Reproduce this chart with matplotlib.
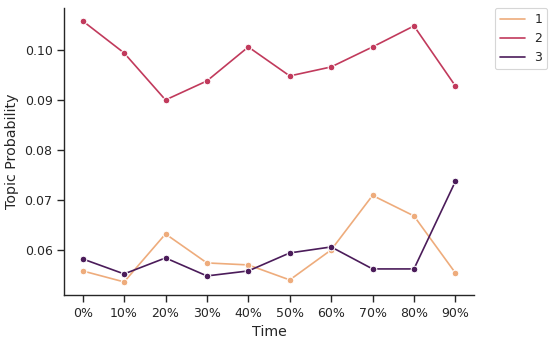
import matplotlib
matplotlib.use("Agg")
import matplotlib.pyplot as plt
import seaborn as sns
import pandas as pd
from matplotlib.lines import Line2D

time_labels = ["0%", "10%", "20%", "30%", "40%", "50%", "60%", "70%", "80%", "90%"]
topic1 = [0.0558, 0.0536, 0.0632, 0.0574, 0.0570, 0.0540, 0.0600, 0.0709, 0.0668, 0.0554]
topic2 = [0.1058, 0.0994, 0.0900, 0.0938, 0.1006, 0.0948, 0.0966, 0.1006, 0.1048, 0.0928]
topic3 = [0.0582, 0.0552, 0.0584, 0.0548, 0.0558, 0.0594, 0.0606, 0.0562, 0.0562, 0.0737]
topics = ["1", "2", "3"]
colors = ["#eeac7c", "#c13a5c", "#4b1c5a"]

sns.set_theme(context="paper", style="ticks")
plt.rcParams['font.family'] = ['DejaVu Sans']
plt.rcParams['axes.labelsize'] = 10.2
plt.rcParams['xtick.labelsize'] = 9.0
plt.rcParams['ytick.labelsize'] = 9.0
plt.rcParams['legend.fontsize'] = 9.0

rows = []
for name, vals in zip(topics, [topic1, topic2, topic3]):
    for t, v in zip(time_labels, vals):
        rows.append({"Time": t, "Topic Probability": v, "topic": name})
df = pd.DataFrame(rows)

dpi = 100
fig, ax = plt.subplots(figsize=(557 / dpi, 343 / dpi), dpi=dpi)
sns.lineplot(data=df, x="Time", y="Topic Probability", hue="topic",
             palette=colors, marker="o",
             ax=ax, sort=False, legend=False)
handles = [Line2D([], [], color=c, lw=plt.rcParams['lines.linewidth']) for c in colors]
sns.despine(ax=ax)
ax.legend(handles, topics, bbox_to_anchor=(1.05, 1.0), loc="upper left", borderaxespad=0)
fig.subplots_adjust(left=0.115, right=0.851, top=0.977, bottom=0.14)
fig.savefig("out.png", dpi=dpi)
